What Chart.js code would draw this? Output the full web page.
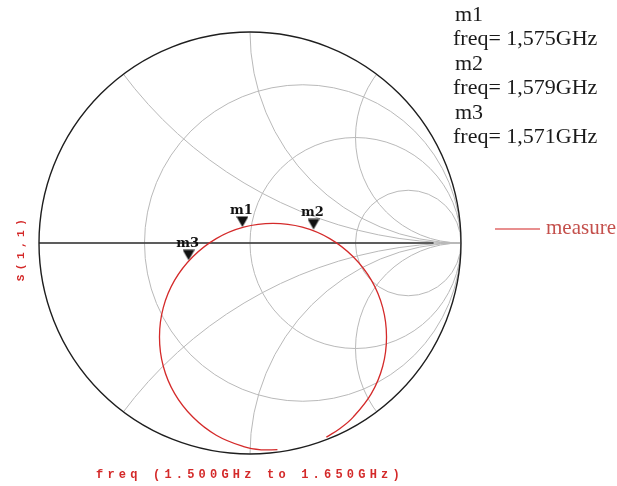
<!DOCTYPE html>
<html>
<head>
<meta charset="utf-8">
<script src="https://cdn.jsdelivr.net/npm/chart.js@4/dist/chart.umd.min.js"></script>
<style>
  html, body { margin: 0; padding: 0; background: #fff; }
</style>
</head>
<body>
<canvas id="smith" width="617" height="486"></canvas>
<script>
// Smith chart grid values (normalised resistance circles / reactance arcs)
const gridResistance = [1 / 3, 1, 3];
const gridReactance = [0.5, 1, 2];

// S(1,1) trace, real and imaginary parts of reflection coefficient,
// read off the picture from 1.500GHz (bottom) clockwise to 1.650GHz
const measureRe = [0.130, 0.053, -0.030, -0.160, -0.271, -0.357, -0.411, -0.429, -0.411, -0.357,
                   -0.271, -0.160, -0.030, 0.109, 0.248, 0.378, 0.489, 0.575, 0.629, 0.647,
                   0.629, 0.575, 0.489, 0.425, 0.362];
const measureIm = [-0.979, -0.980, -0.965, -0.911, -0.825, -0.714, -0.584, -0.445, -0.306, -0.176,
                   -0.065, 0.021, 0.075, 0.093, 0.075, 0.021, -0.065, -0.176, -0.306, -0.445,
                   -0.584, -0.714, -0.825, -0.880, -0.920];

// markers
const markerNames = ["m1", "m2", "m3"];
const markerFreqs = ["1,575GHz", "1,579GHz", "1,571GHz"];
const markerRe = [-0.036, 0.301, -0.291];
const markerIm = [0.076, 0.064, -0.082];

function pairs(xs, ys) {
    return xs.map(function (v, i) { return { x: v, y: ys[i] }; });
}

// downward triangle whose tip sits at the centre of the image
const markerImg = document.createElement("canvas");
markerImg.width = 12;
markerImg.height = 22;
(function () {
    const c = markerImg.getContext("2d");
    c.fillStyle = "#111";
    c.beginPath();
    c.moveTo(0, 0.5);
    c.lineTo(12, 0.5);
    c.lineTo(6, 11);
    c.closePath();
    c.fill();
})();

const smithPlugin = {
    id: "smithGrid",
    beforeDatasetsDraw: function (chart) {
        const ctx = chart.ctx;
        const sx = chart.scales.x, sy = chart.scales.y;
        const px = function (v) { return sx.getPixelForValue(v); };
        const py = function (v) { return sy.getPixelForValue(v); };
        const unit = px(1) - px(0);

        ctx.save();
        ctx.beginPath();
        ctx.arc(px(0), py(0), unit, 0, 2 * Math.PI);
        ctx.clip();
        ctx.strokeStyle = "#b9b9b9";
        ctx.lineWidth = 1;
        gridResistance.forEach(function (r) {
            ctx.beginPath();
            ctx.arc(px(r / (1 + r)), py(0), unit / (1 + r), 0, 2 * Math.PI);
            ctx.stroke();
        });
        gridReactance.forEach(function (xv) {
            [1, -1].forEach(function (s) {
                ctx.beginPath();
                ctx.arc(px(1), py(s / xv), unit / xv, 0, 2 * Math.PI);
                ctx.stroke();
            });
        });
        ctx.beginPath();
        ctx.moveTo(px(-1), py(0));
        ctx.lineTo(px(1), py(0));
        ctx.stroke();
        ctx.restore();

        ctx.save();
        ctx.strokeStyle = "#333";
        ctx.lineWidth = 1.3;
        ctx.beginPath();
        ctx.moveTo(px(-1), py(0));
        ctx.lineTo(px(0.87), py(0));
        ctx.stroke();
        ctx.strokeStyle = "#1e1e1e";
        ctx.lineWidth = 1.4;
        ctx.beginPath();
        ctx.arc(px(0), py(0), unit, 0, 2 * Math.PI);
        ctx.stroke();
        ctx.restore();
    },
    afterDatasetsDraw: function (chart) {
        const ctx = chart.ctx;
        const sx = chart.scales.x, sy = chart.scales.y;

        ctx.save();
        // marker labels
        ctx.font = "bold 13px 'DejaVu Serif'";
        ctx.fillStyle = "#111";
        ctx.textAlign = "center";
        markerNames.forEach(function (name, i) {
            ctx.fillText(name, sx.getPixelForValue(markerRe[i]) - 1, sy.getPixelForValue(markerIm[i]) - 13);
        });

        // marker readout, top right
        ctx.textAlign = "left";
        ctx.fillStyle = "#1a1a1a";
        ctx.font = "22px 'Liberation Serif'";
        markerNames.forEach(function (name, i) {
            ctx.fillText(name, 455, 21 + i * 49);
            ctx.fillText("freq= " + markerFreqs[i], 453, 45 + i * 49);
        });

        // legend
        ctx.strokeStyle = "#e06a6a";
        ctx.lineWidth = 1.5;
        ctx.beginPath();
        ctx.moveTo(495, 229);
        ctx.lineTo(540, 229);
        ctx.stroke();
        ctx.fillStyle = "#c4504c";
        ctx.font = "21px 'Liberation Serif'";
        ctx.fillText("measure", 546, 234);

        // axis captions
        ctx.fillStyle = "#d42a2a";
        ctx.font = "bold 12px 'Liberation Mono'";
        ctx.letterSpacing = "4.2px";
        ctx.fillText("freq (1.500GHz to 1.650GHz)", 96, 478);

        ctx.translate(24, 250);
        ctx.rotate(-Math.PI / 2);
        ctx.font = "bold 11px 'Liberation Mono'";
        ctx.letterSpacing = "4.5px";
        ctx.textAlign = "center";
        ctx.fillText("S(1,1)", 2, 0);
        ctx.restore();
    }
};

new Chart(document.getElementById("smith"), {
    type: "scatter",
    data: {
        datasets: [
            {
                label: "measure",
                data: pairs(measureRe, measureIm),
                showLine: true,
                borderColor: "#d42a2a",
                borderWidth: 1.3,
                pointRadius: 0,
                tension: 0.4,
                fill: false,
            },
            {
                label: "markers",
                data: pairs(markerRe, markerIm),
                pointStyle: markerImg,
                pointRadius: 6,
                showLine: false,
            },
        ],
    },
    options: {
        responsive: false,
        animation: false,
        events: [],
        layout: {
            padding: { left: 39, right: 156, top: 32, bottom: 32 },
        },
        scales: {
            x: { type: "linear", min: -1, max: 1, display: false },
            y: { type: "linear", min: -1, max: 1, display: false },
        },
        plugins: {
            legend: { display: false },
            tooltip: { enabled: false },
        },
    },
    plugins: [smithPlugin],
});
</script>
</body>
</html>
